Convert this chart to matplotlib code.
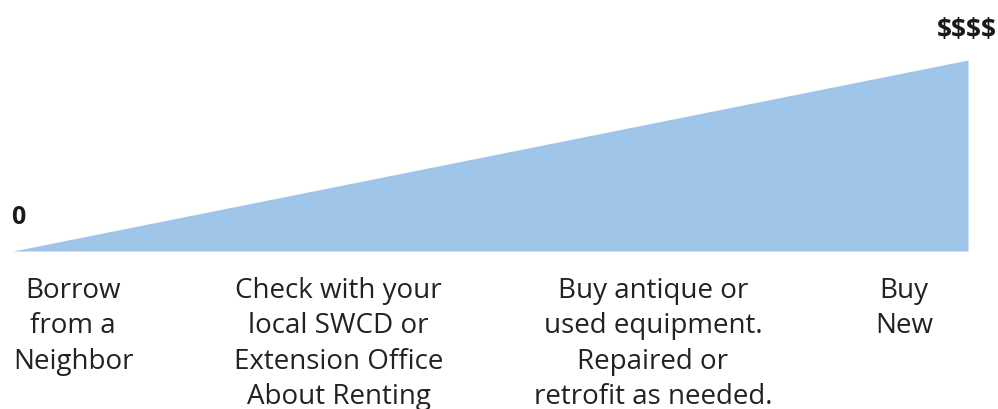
import matplotlib.pyplot as plt
import numpy as np

# cost scale: from free (0) to buying new ($$$$)
cost_x = [0, 1]
cost_y = [0, 1]
low_label = "0"
high_label = "$$$$"

options = [
    "Borrow\nfrom a\nNeighbor",
    "Check with your\nlocal SWCD or\nExtension Office\nAbout Renting",
    "Buy antique or\nused equipment.\nRepaired or\nretrofit as needed.",
    "Buy\nNew",
]
option_pos = [0.063, 0.341, 0.670, 0.933]

plt.rcParams['font.family'] = ['Open Sans', 'DejaVu Sans']

fig = plt.figure(figsize=(9.98, 4.10), dpi=100)
ax = fig.add_axes([13 / 998, (410 - 252) / 410, 955 / 998, 191 / 410])

ax.fill_between(cost_x, 0, cost_y, color='#9fc5e8', linewidth=0)
ax.set_xlim(0, 1)
ax.set_ylim(0, 1)
ax.axis('off')

ax.text(-0.002, 0.115, low_label, fontsize=18, fontweight='bold', color='#1a1a1a',
        ha='left', va='bottom', clip_on=False)
ax.text(1.03, 1.09, high_label, fontsize=19, fontweight='bold', color='#1a1a1a',
        ha='right', va='bottom', clip_on=False, parse_math=False)

for pos, lab in zip(option_pos, options):
    ax.text(pos, -0.13, lab, fontsize=20, color='#222222', ha='center', va='top',
            linespacing=1.35, clip_on=False)

fig.savefig('out.png', dpi=100)
